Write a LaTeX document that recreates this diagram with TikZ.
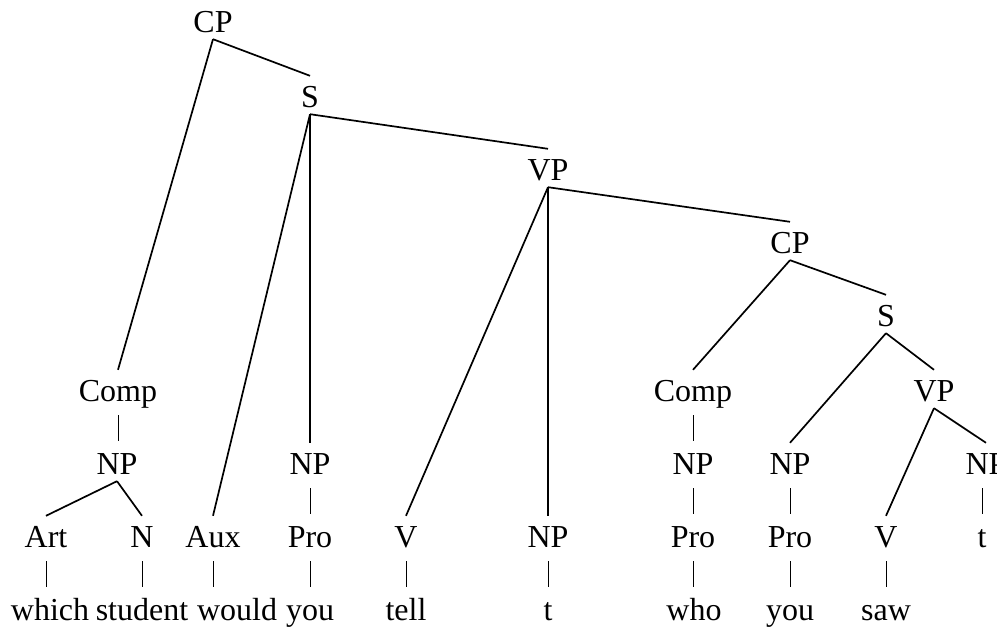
\documentclass[tikz,border=0pt]{standalone}
\usepackage{fontspec}
\setmainfont{Liberation Serif}
\usetikzlibrary{positioning}

\begin{document}
\begin{tikzpicture}[
    x=1pt, y=-1pt,
    cat/.style={
        anchor=base,
        text height=24pt,
        text depth=0pt,
        inner xsep=2pt,
        inner ysep=7pt,
        font=\fontsize{32}{38}\selectfont
    },
    branch/.style={line width=1.7pt, black},
    bar/.style={line width=1pt, black, shorten <=7pt, shorten >=2pt}
]
\useasboundingbox (0,0) rectangle (997,629);

% --- Row baselines ---
\def\yComp{401}
\def\yNP{474}
\def\yLex{547}
\def\yWord{620}

% --- Phrase nodes ---
\node[cat] (cp)    at (213, 32)  {CP};
\node[cat] (s)     at (310, 107) {S};
\node[cat] (vp)    at (548, 180) {VP};
\node[cat] (cpB)   at (790, 253) {CP};
\node[cat] (sB)    at (886, 326) {S};
\node[cat] (comp)  at (118, \yComp) {Comp};
\node[cat] (compB) at (693, \yComp) {Comp};
\node[cat] (vpB)   at (934, \yComp) {VP};

% --- NP row ---
\node[cat] (npA)   at (117, \yNP) {NP};
\node[cat] (npPro) at (310, \yNP) {NP};
\node[cat] (npB)   at (693, \yNP) {NP};
\node[cat] (npC)   at (790, \yNP) {NP};
\node[cat] (npD)   at (986, \yNP) {NP};

% --- Lexical categories ---
\node[cat] (art)   at (46,  \yLex) {Art};
\node[cat] (n)     at (142, \yLex) {N};
\node[cat] (aux)   at (213, \yLex) {Aux};
\node[cat] (proA)  at (310, \yLex) {Pro};
\node[cat] (v)     at (406, \yLex) {V};
\node[cat] (npT)   at (548, \yLex) {NP};
\node[cat] (proB)  at (693, \yLex) {Pro};
\node[cat] (proC)  at (790, \yLex) {Pro};
\node[cat] (vB)    at (886, \yLex) {V};
\node[cat] (tB)    at (982, \yLex) {t};

% --- Words ---
\node[cat] (which)   at (50,  \yWord) {which};
\node[cat] (student) at (142, \yWord) {student};
\node[cat] (would)   at (237, \yWord) {would};
\node[cat] (you)     at (310, \yWord) {you};
\node[cat] (tell)    at (406, \yWord) {tell};
\node[cat] (tA)      at (548, \yWord) {t};
\node[cat] (who)     at (694, \yWord) {who};
\node[cat] (youB)    at (790, \yWord) {you};
\node[cat] (saw)     at (886, \yWord) {saw};

% --- Branches ---
\draw[branch] (cp.south) -- (comp.north);
\draw[branch] (cp.south) -- (s.north);
\draw[branch] (s.south) -- (aux.north);
\draw[branch] (s.south) -- (npPro.north);
\draw[branch] (s.south) -- (vp.north);
\draw[branch] (vp.south) -- (v.north);
\draw[branch] (vp.south) -- (npT.north);
\draw[branch] (vp.south) -- (cpB.north);
\draw[branch] (cpB.south) -- (compB.north);
\draw[branch] (cpB.south) -- (sB.north);
\draw[branch] (sB.south) -- (npC.north);
\draw[branch] (sB.south) -- (vpB.north);
\draw[branch] (vpB.south) -- (vB.north);
\draw[branch] (vpB.south) -- (npD.north);
\draw[branch] (npA.south) -- (art.north);
\draw[branch] (npA.south) -- (n.north);

% --- Unary bars ---
\foreach \a/\b in {comp/npA, npPro/proA, compB/npB, npB/proB, npC/proC,
                   art/which, n/student, aux/would, proA/you, v/tell,
                   npT/tA, proB/who, proC/youB, vB/saw}
    \draw[bar] (\a.south) -- (\a.south |- \b.north);
\draw[bar] (tB.north |- npD.south) -- (tB.north);

\end{tikzpicture}
\end{document}
